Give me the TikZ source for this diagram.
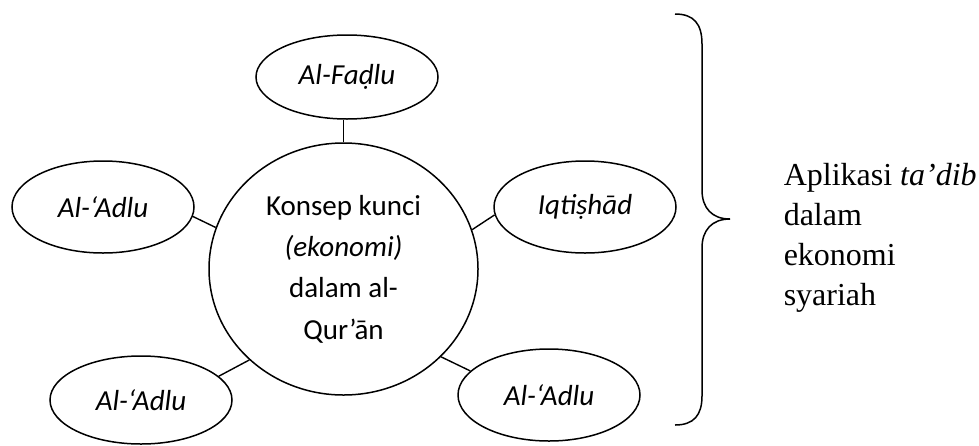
\documentclass[tikz,border=0pt]{standalone}
\usepackage{fontspec}
\setmainfont{Carlito}
\newfontfamily\serifface{Liberation Serif}
\usetikzlibrary{shapes.geometric}
\begin{document}
\begin{tikzpicture}[x=1pt, y=-1pt, line width=1.5pt,
  bubble/.style={draw, ellipse, inner sep=0pt, minimum width=182pt,
    minimum height=92pt, font=\fontsize{29}{35}\selectfont\itshape},
  hub/.style={draw, ellipse, inner sep=0pt, minimum width=269pt,
    minimum height=252pt, align=center, font=\fontsize{29}{41.3}\selectfont},
  link/.style={draw, line width=1.4pt}]
\useasboundingbox (0,0) rectangle (979,445);

% central concept
\node[hub] (c) at (343.5,269) {Konsep kunci\\\textit{(ekonomi)}\\dalam al-\\Qur’ān};

% surrounding concepts
\node[bubble, minimum height=84pt] (t) at (347,77) {Al-Faḍlu};
\node[bubble] (l) at (103,207) {Al-‘Adlu};
\node[bubble] (r) at (585,207) {Iqtiṣhād};
\node[bubble, minimum height=88pt] (bl) at (141,400) {Al-‘Adlu};
\node[bubble, minimum height=92pt] (br) at (549,395) {Al-‘Adlu};

% spokes
\path[link] (c.north) -- (c.north |- t.south);
\path[link] (l.-6) -- (c.162.6);
\path[link] (r.185) -- (c.17.4);
\path[link] (bl.17.6) -- (c.224.2);
\path[link] (br.163.8) -- (c.-42.4);

% curly brace
\draw (675,14) .. controls (694,14) and (702,24) .. (702,44) -- (702,190)
  .. controls (702,208) and (712,219) .. (730,219)
  .. controls (712,219) and (702,230) .. (702,248) -- (702,396)
  .. controls (702,415) and (694,425) .. (675,425);

% annotation (base anchor sits on the last line)
\node[anchor=base west, align=left, inner sep=0pt,
  font=\serifface\fontsize{32}{40}\selectfont] (app) at (783,305)
  {Aplikasi \textit{ta’dib}\\dalam\\ekonomi\\syariah};
\end{tikzpicture}
\end{document}
